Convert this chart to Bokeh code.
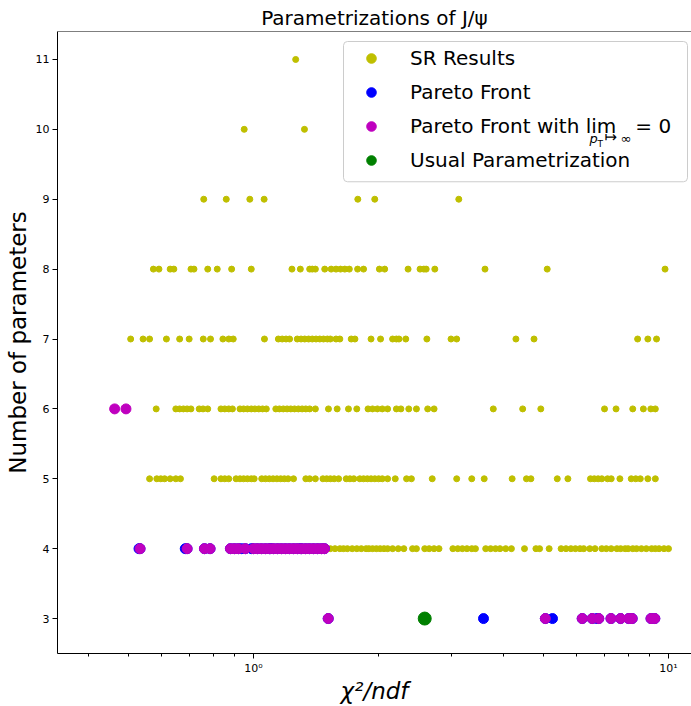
from bokeh.plotting import figure
from bokeh.models import FixedTicker, Legend, LegendItem, Label, Span, BoxAnnotation
from bokeh.embed import file_html
from bokeh.resources import INLINE

# ---------------- data (chi2/ndf per number of parameters) ----------------
sr_p11 = [1.264]
sr_p10 = [0.950, 1.327, 2.443]
sr_p9 = [0.759, 0.860, 0.980, 1.061, 1.784, 1.960, 3.124]
sr_p8 = [0.574, 0.592, 0.630, 0.643, 0.707, 0.719, 0.776, 0.818, 0.886, 0.988,
         1.238, 1.297, 1.366, 1.386, 1.410, 1.485, 1.539, 1.581, 1.621, 1.660,
         1.702, 1.782, 1.842, 2.011, 2.071, 2.358, 2.520, 2.574, 2.607, 2.735,
         3.613, 5.102, 9.81]
sr_p7 = [0.506, 0.542, 0.562, 0.617, 0.664, 0.700, 0.757, 0.788, 0.844, 0.872,
         0.894, 1.063, 1.148, 1.173, 1.198, 1.222, 1.275, 1.302, 1.329, 1.358,
         1.386, 1.415, 1.445, 1.475, 1.507, 1.532, 1.581, 1.615, 1.720, 1.756,
         1.920, 2.024, 2.164, 2.210, 2.242, 2.328, 2.617, 2.992, 3.088, 4.289,
         4.742, 8.425, 8.916, 9.357]
sr_p6 = [0.583, 0.650, 0.664, 0.678, 0.692, 0.707, 0.740, 0.756, 0.776, 0.835,
         0.853, 0.872, 0.890, 0.928, 0.947, 0.967, 0.988, 1.008, 1.030, 1.052,
         1.074, 1.132, 1.155, 1.180, 1.205, 1.230, 1.256, 1.283, 1.310, 1.337,
         1.366, 1.410, 1.516, 1.591, 1.694, 1.774, 1.888, 1.936, 1.989, 2.044,
         2.105, 2.210, 2.266, 2.367, 2.470, 2.629, 2.724, 3.783, 4.453, 4.924,
         7.012, 7.475, 8.200, 8.697, 9.065, 9.295]
sr_p5 = [0.562, 0.585, 0.598, 0.611, 0.630, 0.650, 0.667, 0.804, 0.835, 0.853,
         0.872, 0.908, 0.928, 0.947, 0.967, 0.988, 1.004, 1.047, 1.069, 1.092,
         1.115, 1.139, 1.163, 1.187, 1.212, 1.249, 1.337, 1.366, 1.410, 1.470,
         1.501, 1.532, 1.565, 1.604, 1.673, 1.708, 1.745, 1.804, 1.842, 1.881,
         1.920, 1.961, 2.003, 2.044, 2.105, 2.196, 2.338, 2.402, 2.696, 3.088,
         3.357, 3.597, 4.200, 4.547, 4.661, 5.395, 5.722, 6.486, 6.625, 6.767,
         6.907, 7.129, 7.277, 7.636, 8.132, 8.337, 8.551, 8.916, 9.295]
sr_p4 = [1.532, 1.572, 1.615, 1.648, 1.684, 1.730, 1.774, 1.819, 1.868, 1.897,
         1.936, 1.978, 2.020, 2.063, 2.105, 2.164, 2.233, 2.303, 2.417, 2.470,
         2.586, 2.651, 2.724, 2.799, 3.023, 3.106, 3.187, 3.268, 3.357, 3.427,
         3.627, 3.727, 3.830, 3.926, 4.053, 4.183, 4.498, 4.792, 4.891, 5.157,
         5.511, 5.662, 5.818, 5.966, 6.119, 6.247, 6.460, 6.651, 6.907, 7.082,
         7.277, 7.509, 7.668, 7.863, 7.993, 8.200, 8.375, 8.605, 8.842, 9.105,
         9.295, 9.491, 9.754, 10.0]

pareto_p4 = [0.530, 0.685, 0.936, 0.989, 1.10, 1.30]
pareto_p3 = [3.583, 5.254, 6.724]

lim0_p6 = [0.463, 0.493]
lim0_p4 = [0.533, 0.692, 0.762, 0.786, 0.880, 0.900, 0.920, 0.956, 1.000, 1.022,
           1.045, 1.069, 1.093, 1.117, 1.143, 1.168, 1.194, 1.221, 1.249, 1.276,
           1.305, 1.335, 1.364, 1.395, 1.427, 1.458, 1.483]
lim0_p3 = [1.514, 5.049, 6.195, 6.548, 6.792, 7.268, 7.668, 8.020, 8.174, 9.075, 9.268]

usual_x = [2.586]
usual_y = [3]

x_major = [1, 10]
x_minor = [0.4, 0.5, 0.6, 0.7, 0.8, 0.9, 2, 3, 4, 5, 6, 7, 8, 9]
y_major = [3, 4, 5, 6, 7, 8, 9, 10, 11]

sr_rows = {11: sr_p11, 10: sr_p10, 9: sr_p9, 8: sr_p8, 7: sr_p7, 6: sr_p6, 5: sr_p5, 4: sr_p4}
sr_x, sr_y = [], []
for n, xs in sr_rows.items():
    sr_x += xs
    sr_y += [n] * len(xs)
par_x = pareto_p4 + lim0_p4 + pareto_p3 + lim0_p3
par_y = [4] * len(pareto_p4 + lim0_p4) + [3] * len(pareto_p3 + lim0_p3)
lim_x = lim0_p6 + lim0_p4 + lim0_p3
lim_y = [6] * len(lim0_p6) + [4] * len(lim0_p4) + [3] * len(lim0_p3)

FONT = "DejaVu Sans"
YEL, BLUE, MAG, GREEN = "#bfbf00", "#0000ff", "#bf00bf", "#008000"

p = figure(width=691, height=706, x_axis_type="log",
           x_range=(0.3372, 11.36), y_range=(2.5, 11.4),
           output_backend="svg", toolbar_location=None,
           min_border_left=57, min_border_right=0, min_border_top=31, min_border_bottom=52,
           title="Parametrizations of J/ψ")
p.title.text_font = FONT
p.title.text_font_size = "20px"
p.title.text_font_style = "normal"
p.title.text_color = "black"
p.title.align = "center"
p.title.offset = 3
p.title.standoff = 3

p.outline_line_color = None
p.grid.grid_line_color = None
p.background_fill_color = "white"
p.border_fill_color = "white"

p.xaxis.ticker = FixedTicker(ticks=x_major, minor_ticks=x_minor)
p.xaxis.major_label_overrides = {1: "10⁰", 10: "10¹"}
p.yaxis.ticker = FixedTicker(ticks=y_major, minor_ticks=[])
for ax in (p.xaxis, p.yaxis):
    ax.axis_line_color = "black"
    ax.major_tick_line_color = "black"
    ax.minor_tick_line_color = "black"
    ax.major_tick_out = 5
    ax.major_tick_in = 0
    ax.minor_tick_out = 3
    ax.minor_tick_in = 0
    ax.major_label_text_font = FONT
    ax.major_label_text_font_size = "11px"
    ax.major_label_text_color = "black"
    ax.major_label_standoff = 3
    ax.axis_label_text_font = FONT
    ax.axis_label_text_font_size = "23px"
    ax.axis_label_text_color = "black"
p.xaxis.axis_label_standoff = 0
p.yaxis.axis_label_standoff = 2
p.xaxis.axis_label = "χ²/ndf"
p.xaxis.axis_label_text_font_style = "italic"
p.yaxis.axis_label = "Number of parameters"
p.yaxis.axis_label_text_font_style = "normal"

p.add_layout(Span(location=11.4, dimension="width", line_color="black", line_width=1))

r_sr = p.scatter(sr_x, sr_y, size=6, fill_color=YEL, line_color=YEL)
r_par = p.scatter(par_x, par_y, size=10, fill_color=BLUE, line_color=BLUE)
r_lim = p.scatter(lim_x, lim_y, size=10, fill_color=MAG, line_color=MAG)
r_usual = p.scatter(usual_x, usual_y, size=13, fill_color=GREEN, line_color=GREEN)

# legend frame (semi-transparent box, like matplotlib's framealpha=0.8)
p.add_layout(BoxAnnotation(left=1.648, right=11.11, top=11.257, bottom=9.25,
                           fill_color="white", fill_alpha=0.8,
                           line_color="#cccccc", line_width=1, line_alpha=1,
                           border_radius=4, level="annotation"))

nb = "\u00a0"
legend = Legend(items=[
    LegendItem(label="SR Results", renderers=[r_sr]),
    LegendItem(label="Pareto Front", renderers=[r_par]),
    LegendItem(label="Pareto Front with lim" + nb * 3 + "= 0", renderers=[r_lim]),
    LegendItem(label="Usual Parametrization", renderers=[r_usual]),
], location=(286, 476))
legend.label_text_font = FONT
legend.label_text_font_size = "20px"
legend.label_text_color = "black"
legend.padding = 5
legend.margin = 0
legend.spacing = 10
legend.glyph_width = 46
legend.glyph_height = 24
legend.label_height = 24
legend.label_standoff = 16
legend.border_line_alpha = 0
legend.background_fill_alpha = 0
p.add_layout(legend)

sub_y = 9.766
sub_x = 6.45
for txt, dx, dy, fs, st in [("p", 0, 0, "13px", "italic"), ("T", 8, -3, "9px", "normal"),
                            ("↦", 15, 0, "15px", "normal"), ("∞", 31, 0, "13px", "normal")]:
    p.add_layout(Label(x=sub_x, y=sub_y, x_offset=dx, y_offset=dy, text=txt, text_font=FONT,
                       text_font_style=st, text_font_size=fs, text_color="black",
                       level="overlay"))

open("out.html", "w").write(file_html(p, INLINE))
